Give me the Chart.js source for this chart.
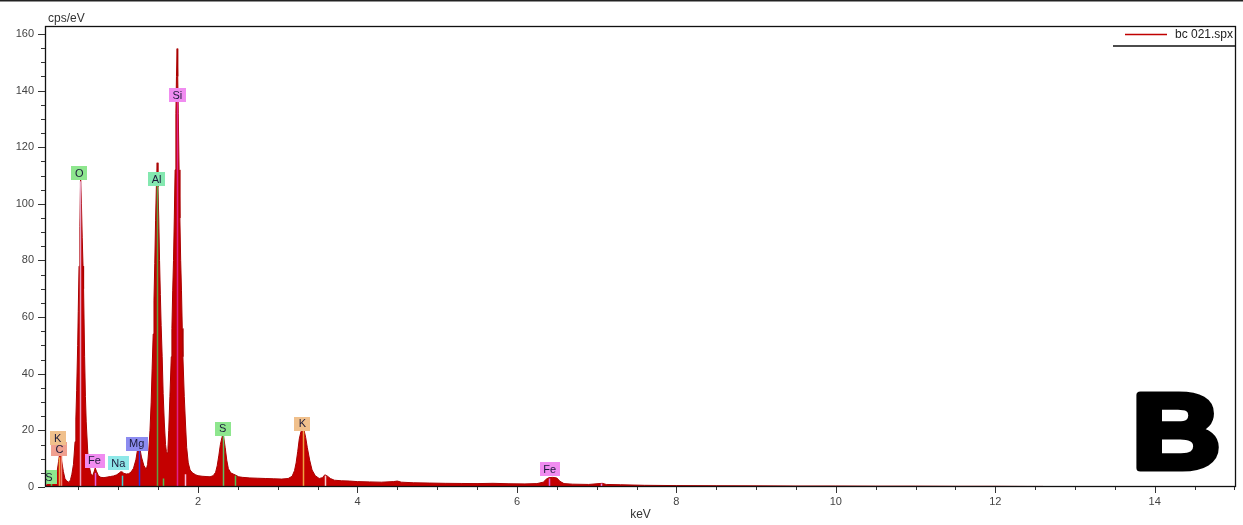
<!DOCTYPE html>
<html><head><meta charset="utf-8">
<script src="https://cdn.jsdelivr.net/npm/chart.js@4"></script>
<style>
html,body{margin:0;padding:0;background:#fff;}
#wrap{position:relative;width:1243px;height:525px;}
canvas{display:block}
</style></head><body>
<div id="wrap"><canvas id="c" width="1243" height="525"></canvas></div>
<script>
// ---- spectrum (keV, cps/eV) ----
const energies = [0.08,0.10,0.12,0.14,0.15,0.17,0.19,0.21,0.23,0.25,0.26,0.27,0.28,0.29,0.31,0.33,0.35,0.37,0.385,0.40,0.417,0.437,0.457,0.467,0.477,0.490,0.497,0.507,0.517,0.527,0.537,0.547,0.557,0.564,0.577,0.587,0.597,0.617,0.637,0.657,0.677,0.695,0.710,0.725,0.75,0.78,0.82,0.86,0.90,0.94,0.98,1.01,1.03,1.05,1.07,1.10,1.13,1.16,1.19,1.22,1.24,1.255,1.27,1.29,1.32,1.35,1.367,1.382,1.397,1.412,1.424,1.437,1.447,1.457,1.467,1.477,1.487,1.497,1.507,1.517,1.527,1.537,1.550,1.562,1.577,1.592,1.603,1.612,1.622,1.632,1.647,1.664,1.672,1.682,1.692,1.702,1.712,1.722,1.729,1.737,1.745,1.752,1.762,1.772,1.782,1.792,1.802,1.810,1.827,1.842,1.857,1.877,1.90,1.93,1.97,2.00,2.05,2.10,2.15,2.19,2.22,2.24,2.26,2.28,2.30,2.31,2.32,2.34,2.36,2.38,2.41,2.44,2.47,2.51,2.56,2.65,2.75,2.85,2.95,3.05,3.13,3.18,3.21,3.23,3.25,3.27,3.29,3.31,3.33,3.35,3.37,3.40,3.43,3.47,3.52,3.56,3.59,3.62,3.66,3.71,3.80,3.90,4.00,4.15,4.30,4.45,4.50,4.55,4.70,4.90,5.10,5.30,5.50,5.70,5.90,6.10,6.25,6.33,6.37,6.40,6.45,6.50,6.54,6.59,6.70,6.90,7.03,7.07,7.12,7.30,7.60,8.00,8.50,9.00,9.50,10.00,10.50,11.00,11.50,12.00,12.40,12.60,12.62,15.00];
const counts = [0.4,0.8,1.2,2.2,2.6,1.8,1.6,2.5,5,9,11,11.8,11.2,9,5.5,3,2.2,1.8,1.7,2.6,4.5,8,16,24,34,50,62,78,92,109,100,88,78,70,46,32,23,12,7,4.5,4,5.3,6.7,5.6,4,3.4,3.3,3.5,3.7,3.9,4.3,4.9,5.4,5.3,4.8,4.6,4.7,5.3,6.6,9.6,13,14.5,13.6,10.6,7.6,6.2,8,13,20,30,42,54,66,79,94,106,114.5,106,95,80,68,57,46,33,22.6,15,12.5,12,13.5,20,32,46,56,69.5,80,95,112,132,145,154.8,145,132,112,95,80,69.5,56,46,32,22.6,14,8.5,6,5,4.3,4.0,3.8,3.7,3.6,4.0,5.2,7.5,11,15,17.5,18.5,17.8,14,9.5,6.5,5,4.6,4.2,3.6,3.4,3.2,3.1,3.0,2.9,2.8,3.0,3.8,5.8,8.5,12.5,17,19.5,20.3,20,17.5,14,9.5,6,4,3,3.3,4.3,3.9,3,2.4,2.2,2.1,1.9,1.8,1.7,1.9,2.1,1.7,1.5,1.4,1.3,1.25,1.2,1.3,1.15,1.1,1.2,1.7,2.8,3.3,3.4,3.2,2.0,1.2,1.0,0.9,1.2,1.3,0.9,0.8,0.6,0.5,0.45,0.4,0.35,0.35,0.3,0.3,0.25,0.25,0.2,0.2,0,0];

// ---- axes ----
const xLabelTicks = [2,4,6,8,10,12,14];
const yLabelTicks = [0,20,40,60,80,100,120,140,160];
const seriesName = 'bc 021.spx';

// ---- element markers ----
const elemNames   = ['S','C','K','O','Fe','Na','Mg','Al','Si','S','K','Fe'];
const elemEnergy  = [0.149,0.277,0.26,0.525,0.705,1.041,1.254,1.486,1.74,2.307,3.313,6.403];
const elemLineTop = [3,12,10.5,108,5,4,15,107,138,18,20,3];
const labelEnergy = [0.13,0.26,0.24,0.51,0.70,1.00,1.23,1.48,1.74,2.31,3.31,6.41];
const labelLevel  = [3.5,13.4,17.3,110.8,9.2,8.3,15.2,108.6,138.3,20.6,22.4,6.2];
const labelColors = ['#8ee68e','#f0a090','#f0c08c','#8ee68e','#f08cf0','#8ee8e8','#8c8cf0','#84e8b0','#f08cf0','#8ee68e','#f0c08c','#f08cf0'];
const lineColors  = ['#50c050','#f08070','#f0a040','#e8a0c0','#e060e0','#40d0d0','#3030e0','#60a040','#e0208c','#60c060','#f0a040','#e060e0'];
// minor (K-beta etc.) lines
const minorEnergy = [1.557,1.836,2.464,3.59,7.06];
const minorTop    = [3,4.5,4,4,1.2];
const minorColors = ['#50c050','#f8c0e0','#50c050','#f8d0d0','#f08cf0'];

const FONT = '"Liberation Sans", Arial, sans-serif';

const decor = {
  id:'decor',
  afterDatasetsDraw(chart){
    const {ctx, chartArea:a, scales:{x,y}} = chart;
    ctx.save();
    ctx.beginPath(); ctx.rect(a.left, a.top, a.width, a.height); ctx.clip();
    ctx.lineWidth = 1.5;
    minorEnergy.forEach((e,i)=>{
      const px = Math.round(x.getPixelForValue(e))+0.5;
      ctx.strokeStyle = minorColors[i];
      ctx.beginPath(); ctx.moveTo(px, y.getPixelForValue(0)); ctx.lineTo(px, y.getPixelForValue(minorTop[i])); ctx.stroke();
    });
    elemEnergy.forEach((e,i)=>{
      const px = Math.round(x.getPixelForValue(e))+0.5;
      ctx.strokeStyle = lineColors[i];
      ctx.beginPath(); ctx.moveTo(px, y.getPixelForValue(0)); ctx.lineTo(px, y.getPixelForValue(elemLineTop[i])); ctx.stroke();
    });
    ctx.font = '11px ' + FONT;
    ctx.textAlign = 'center'; ctx.textBaseline = 'middle';
    elemNames.forEach((name,i)=>{
      const cx = x.getPixelForValue(labelEnergy[i]);
      const cy = y.getPixelForValue(labelLevel[i]);
      const w = Math.max(ctx.measureText(name).width + 7, 16);
      const h = 14;
      ctx.fillStyle = labelColors[i];
      ctx.fillRect(Math.round(cx - w/2), Math.round(cy - h/2), Math.round(w), h);
      ctx.fillStyle = '#1a1a3a';
      ctx.fillText(name, cx, cy + 0.5);
    });
    ctx.restore();
  },
  afterDraw(chart){
    const {ctx, chartArea:a, scales:{x,y}} = chart;
    ctx.save();
    // top page rule
    ctx.strokeStyle = '#222'; ctx.lineWidth = 1.5;
    ctx.beginPath(); ctx.moveTo(0, 0.75); ctx.lineTo(chart.width, 0.75); ctx.stroke();
    // frame
    ctx.strokeStyle = '#111'; ctx.lineWidth = 1.3;
    ctx.strokeRect(a.left + 0.5, a.top + 0.5, a.width - 1, a.height - 1);
    // y ticks
    ctx.lineWidth = 1;
    ctx.strokeStyle = '#333';
    for (let v = 0; v <= 160; v += 5) {
      const py = Math.round(y.getPixelForValue(v)) + 0.5;
      const len = (v % 20 === 0) ? 7 : 4;
      ctx.beginPath(); ctx.moveTo(a.left - len, py); ctx.lineTo(a.left, py); ctx.stroke();
    }
    // x ticks
    for (let v = 0.5; v <= 15; v += 0.5) {
      const px = Math.round(x.getPixelForValue(v)) + 0.5;
      if (px < a.left || px > a.right) continue;
      const len = (v % 2 === 0) ? 6 : 3;
      ctx.beginPath(); ctx.moveTo(px, a.bottom); ctx.lineTo(px, a.bottom + len); ctx.stroke();
    }
    // y title
    ctx.fillStyle = '#333';
    ctx.font = '12px ' + FONT;
    ctx.textAlign = 'left'; ctx.textBaseline = 'middle';
    ctx.fillText('cps/eV', a.left + 3, a.top - 7);
    // legend
    ctx.strokeStyle = '#c00000'; ctx.lineWidth = 1.3;
    ctx.beginPath(); ctx.moveTo(a.right - 111, a.top + 8.5); ctx.lineTo(a.right - 69, a.top + 8.5); ctx.stroke();
    ctx.fillStyle = '#222';
    ctx.textAlign = 'right';
    ctx.fillText(seriesName, a.right - 3, a.top + 8.5);
    ctx.strokeStyle = '#111'; ctx.lineWidth = 1.5;
    ctx.beginPath(); ctx.moveTo(a.right - 123, a.top + 20); ctx.lineTo(a.right, a.top + 20); ctx.stroke();
    // big panel letter
    ctx.save();
    ctx.font = 'bold 106px ' + FONT;
    ctx.textAlign = 'left'; ctx.textBaseline = 'alphabetic';
    const m = ctx.measureText('B');
    const sx = 1.15;
    const glyphW = (m.actualBoundingBoxLeft + m.actualBoundingBoxRight) * sx;
    const right = a.right - 21, bottom = a.bottom - 19;
    const left = right - glyphW;
    ctx.translate(left + m.actualBoundingBoxLeft * sx, bottom);
    ctx.scale(sx, 1);
    ctx.fillStyle = '#000'; ctx.strokeStyle = '#000'; ctx.lineWidth = 7; ctx.lineJoin = 'round';
    ctx.fillText('B', 0, 0);
    ctx.strokeText('B', 0, 0);
    ctx.restore();
    ctx.restore();
  }
};

new Chart(document.getElementById('c'), {
  type: 'line',
  data: {
    datasets: [{
      label: seriesName,
      data: energies.map((e, i) => ({ x: e, y: counts[i] })),
      fill: 'origin',
      backgroundColor: '#c40000',
      borderColor: '#aa0000',
      borderWidth: 1,
      pointRadius: 0,
      tension: 0
    }]
  },
  options: {
    responsive: false,
    animation: false,
    devicePixelRatio: 1,
    layout: { padding: { top: 26, right: 7, left: 0, bottom: 0 } },
    plugins: { legend: { display: false }, tooltip: { enabled: false } },
    scales: {
      x: {
        type: 'linear', min: 0.08, max: 15.02,
        afterBuildTicks: s => { s.ticks = xLabelTicks.map(v => ({ value: v })); },
        afterFit: s => { s.height = 38; },
        ticks: { autoSkip: false, maxRotation: 0, padding: 8, color: '#444', font: { family: FONT, size: 11 } },
        grid: { display: false, drawTicks: false },
        border: { display: false },
        title: { display: true, text: 'keV', color: '#333', font: { family: FONT, size: 12 }, padding: { top: 0, bottom: 3 } }
      },
      y: {
        min: 0, max: 162.8,
        afterBuildTicks: s => { s.ticks = yLabelTicks.map(v => ({ value: v })); },
        afterFit: s => { s.width = 45; },
        ticks: { autoSkip: false, padding: 11, color: '#444', font: { family: FONT, size: 11 } },
        grid: { display: false, drawTicks: false },
        border: { display: false }
      }
    }
  },
  plugins: [decor]
});
</script>
</body></html>
